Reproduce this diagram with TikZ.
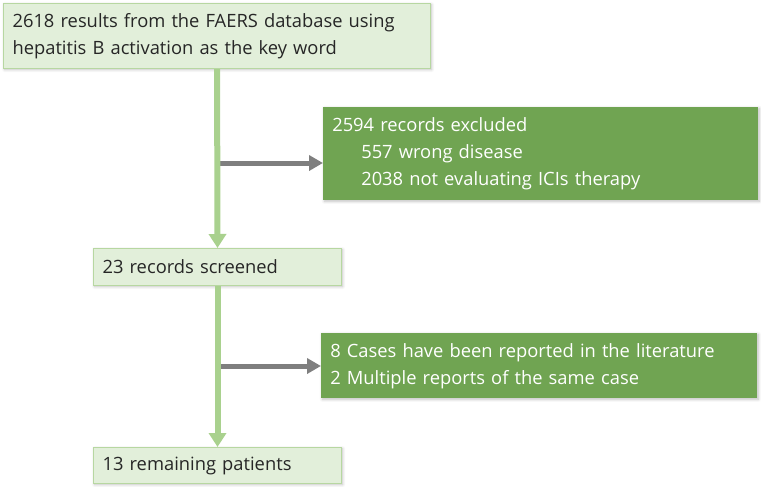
\documentclass[tikz,border=0pt]{standalone}
\usepackage{fontspec}
\setmainfont{Open Sans}
\usetikzlibrary{arrows.meta, positioning, shadows.blur}
\definecolor{lightbox}{HTML}{E2EFDA}
\definecolor{lightedge}{HTML}{B7D7A1}
\definecolor{darkbox}{HTML}{70A452}
\definecolor{flowline}{HTML}{A9D18E}
\definecolor{sidearrow}{HTML}{7F7F7F}
\definecolor{textgray}{HTML}{262626}

\begin{document}
\begin{tikzpicture}[x=0.75pt, y=-0.75pt, font=\fontsize{13.75}{20.25}\selectfont]

        % Setup the styles for the boxes and arrows
        \tikzset{box style/.style={anchor=north west,
                                   align=left,
                                   inner xsep=6.75pt,
                                   inner ysep=0pt,
                                   blur shadow={shadow xshift=0.8pt, shadow yshift=-0.8pt,
                                                shadow blur steps=5, shadow opacity=25}},
                 light box/.style={box style,
                                   draw=lightedge,
                                   line width=0.8pt,
                                   fill=lightbox,
                                   text=textgray},
                 dark box/.style={box style,
                                  fill=darkbox,
                                  text=white},
                 flow arrow/.style={draw=flowline,
                                    line width=4.5pt,
                                    -{Triangle[length=10.5pt, width=12.75pt]}},
                 side arrow/.style={draw=sidearrow,
                                    line width=3.75pt,
                                    -{Triangle[length=10.5pt, width=11.25pt]}}}

        \useasboundingbox (0, 0) rectangle (761, 486);

        % Draw the boxes
        \node[light box, text width=306.75pt, minimum height=48.75pt] at (3, 3)   (results)
            {2618 results from the FAERS database using\\hepatitis B activation as the key word};
        \node[dark box, text width=312.75pt, minimum height=69.75pt]  at (323, 107) (excluded)
            {2594 records excluded\\\hspace*{21.75pt}557 wrong disease\\\hspace*{21.75pt}2038 not evaluating ICIs therapy};
        \node[light box, text width=172.5pt, minimum height=27.75pt]  at (93, 248)  (screened)
            {23 records screened};
        \node[dark box, text width=313.5pt, minimum height=48.75pt]   at (321, 333) (reported)
            {8 Cases have been reported in the literature\\2 Multiple reports of the same case};
        \node[light box, text width=172.5pt, minimum height=27pt]     at (93, 447)  (remaining)
            {13 remaining patients};

        % Points where the side arrows leave the main flow
        \coordinate (cut1) at (219, 163);
        \coordinate (cut2) at (219, 366);

        % Connect the boxes with arrows
        \draw[side arrow] (cut1) -- (cut1 -| excluded.west);
        \draw[side arrow] (cut2) -- (cut2 -| reported.west);
        \draw[flow arrow] (results.south) -- (screened.north);
        \draw[flow arrow] (screened.south) -- (remaining.north);
    \end{tikzpicture}
\end{document}
